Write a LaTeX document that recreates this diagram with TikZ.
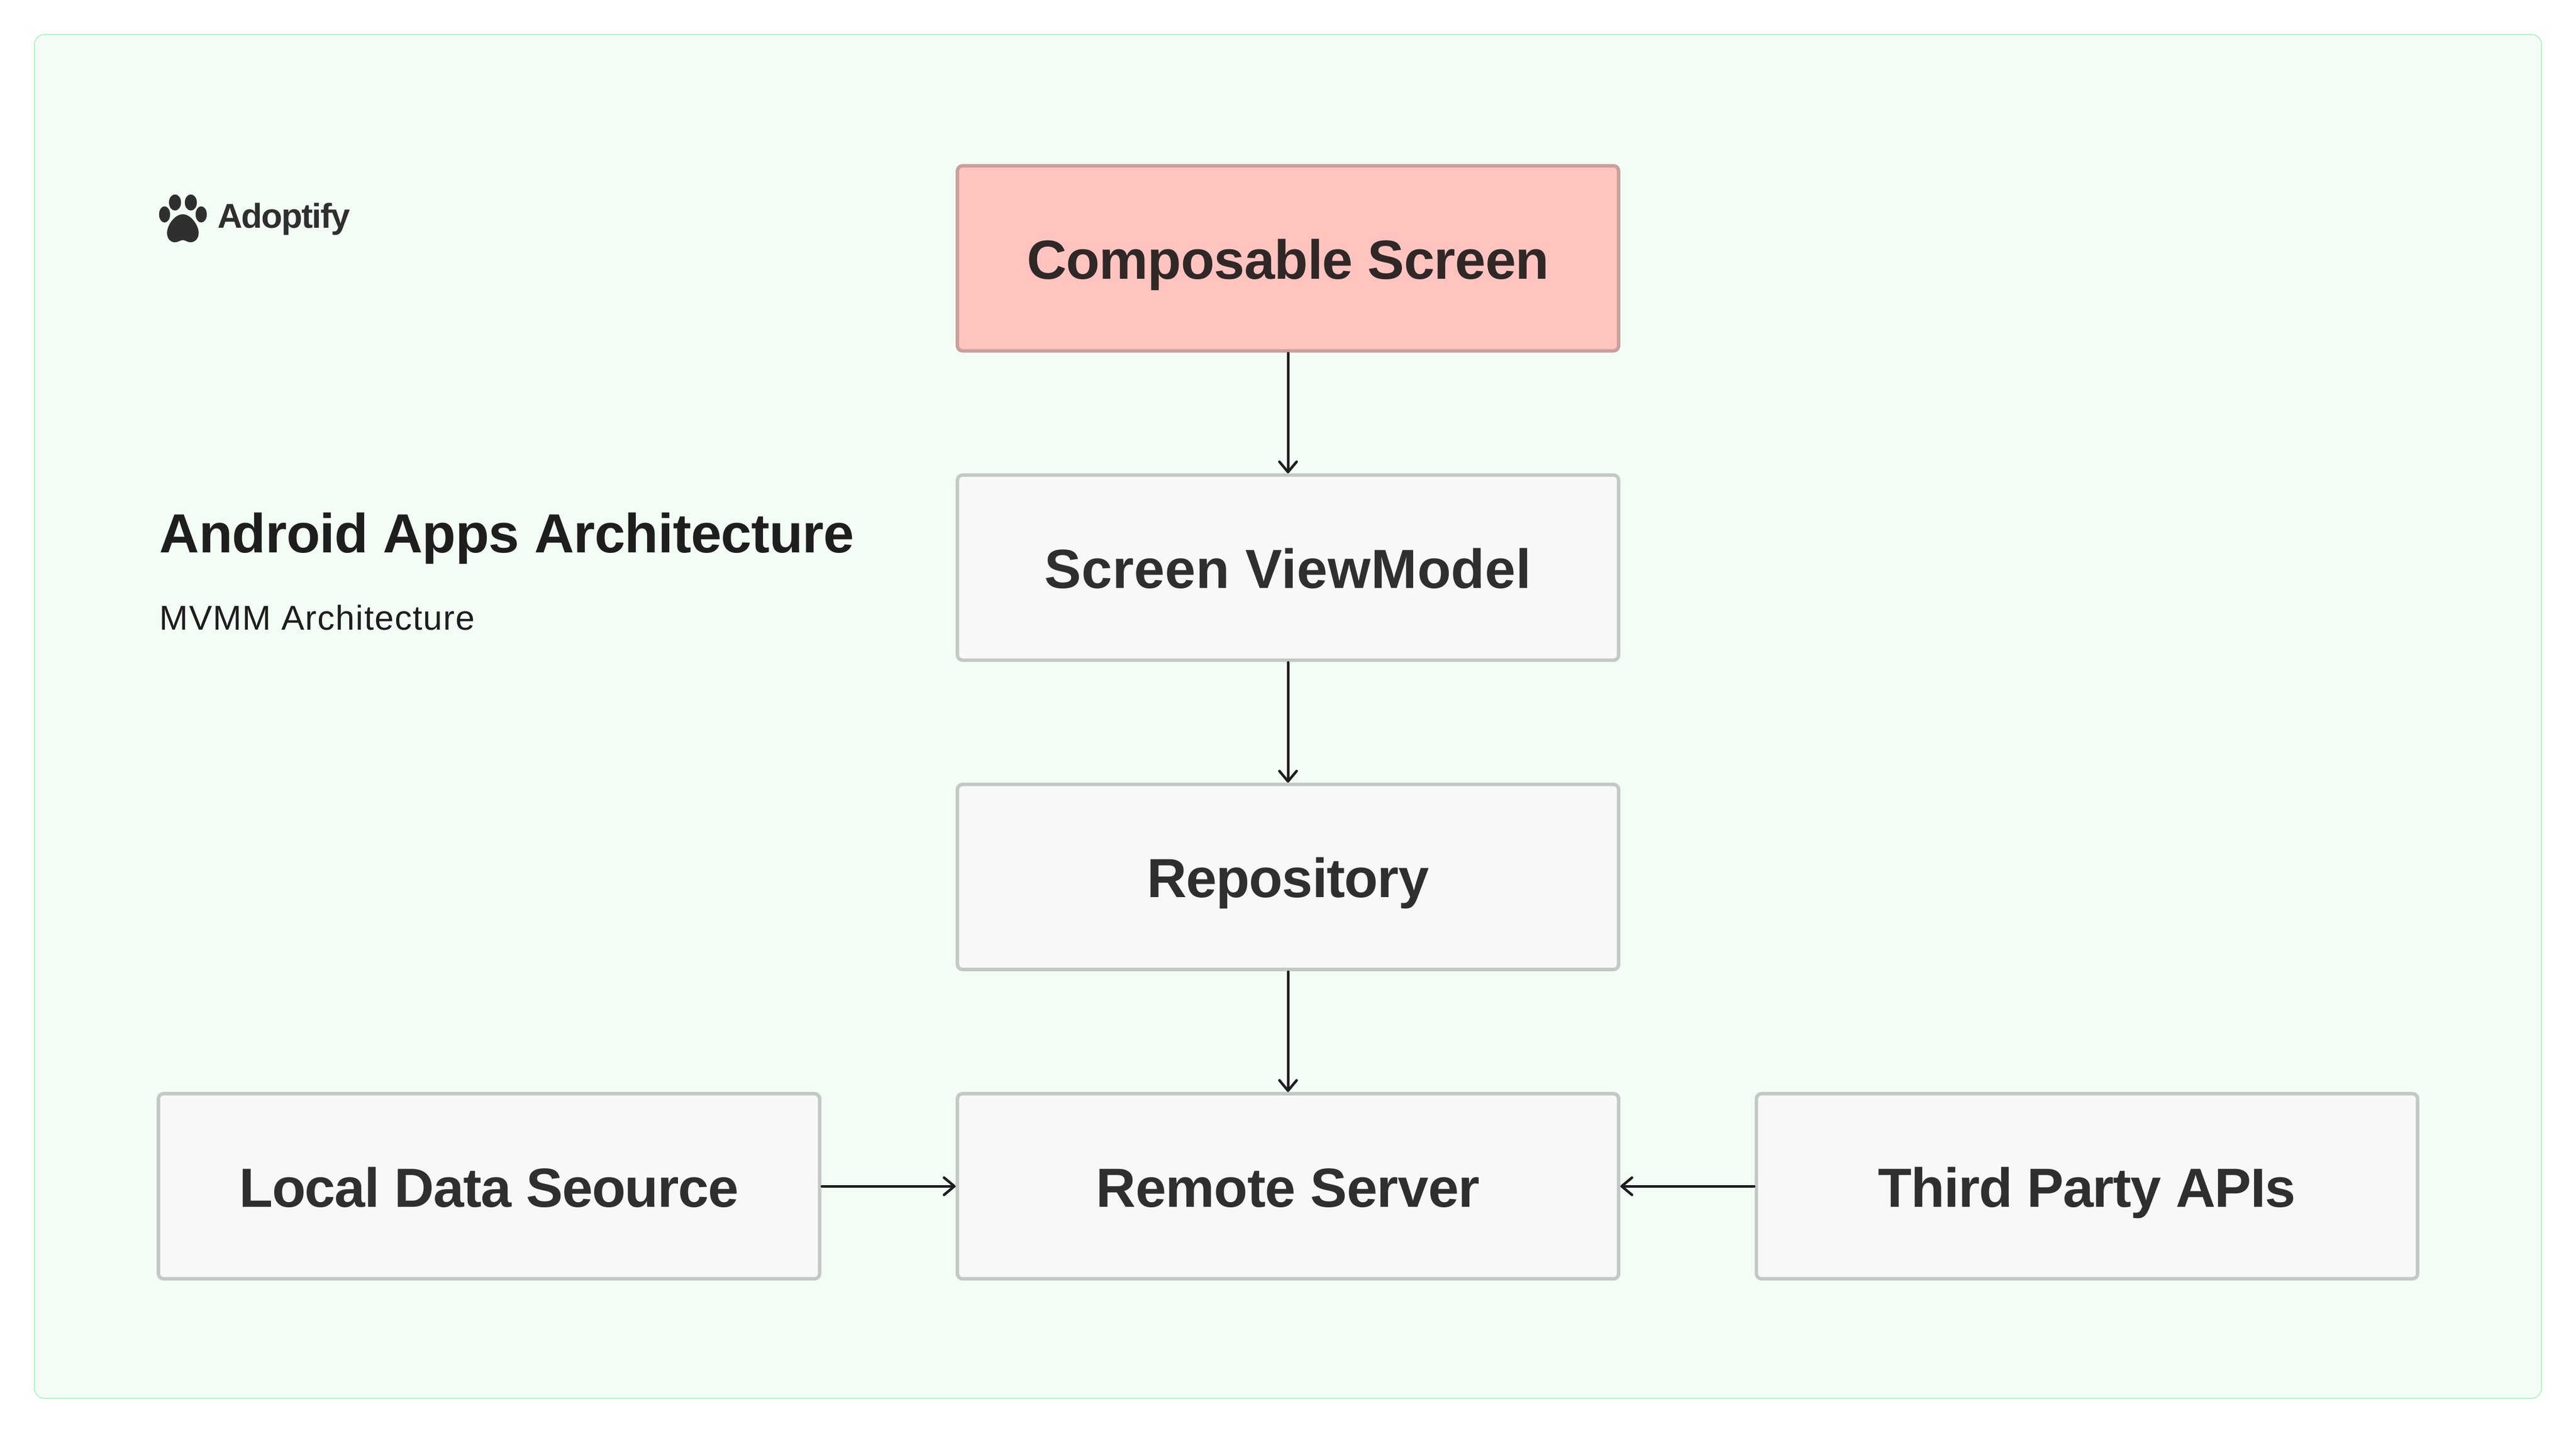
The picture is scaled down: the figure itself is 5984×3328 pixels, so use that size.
\documentclass[tikz,border=0pt]{standalone}
\usepackage{fontspec}
\setmainfont{Liberation Sans}
\usetikzlibrary{positioning, arrows.meta}
\definecolor{panelfill}{HTML}{F3FDF6}
\definecolor{paneldraw}{HTML}{ACF5C5}
\definecolor{boxfill}{HTML}{F8F8F8}
\definecolor{boxdraw}{HTML}{C3C9C5}
\definecolor{redfill}{HTML}{FFC4C0}
\definecolor{reddraw}{HTML}{CB9F9B}
\definecolor{boxtext}{HTML}{2F2F2F}
\definecolor{redtext}{HTML}{302826}
\definecolor{inktext}{HTML}{1E1E1E}
\newcommand{\tracked}[1]{\addfontfeature{LetterSpace=#1}}
\tikzset{
    layer/.style={draw=boxdraw, fill=boxfill, line width=2pt, rounded corners=3pt, text=boxtext,
        minimum width=384pt, minimum height=107.5pt, inner sep=0pt, text height=24pt, text depth=0pt,
        font=\fontsize{32}{38}\selectfont\bfseries},
    flow/.style={draw=inktext, line width=1.5pt, line cap=round, shorten <=0.3pt,
        -{Straight Barb[length=6pt, width=10pt, round]}},
    caption/.style={anchor=base west, inner sep=0pt, text=inktext}
}

\begin{document}
\begin{tikzpicture}[x=0.25pt, y=-0.25pt, node distance=70.1pt and 78pt]
            \useasboundingbox (0,0) rectangle (5984,3328);
            \node [draw=paneldraw, fill=panelfill, line width=0.6pt, rounded corners=6pt, minimum width=1456pt, minimum height=792pt] (panel) at (2992,1664) {};
            \node [layer, draw=reddraw, fill=redfill, text=redtext] (screen) at (2992,600) {\tracked{-0.9}Composable Screen};
            \node [layer, below = of screen] (viewmodel) {\tracked{0.55}Screen ViewModel};
            \node [layer, below = of viewmodel] (repo) {\tracked{-1.2}Repository};
            \node [layer, below = of repo] (remote) {\tracked{-0.9}Remote Server};
            \node [layer, left = of remote] (local) {\tracked{-1.4}Local Data Seource};
            \node [layer, right = of remote] (apis) {\tracked{-1.6}Third Party APIs};
            \draw [flow] (screen) -- (viewmodel);
            \draw [flow] (viewmodel) -- (repo);
            \draw [flow] (repo) -- (remote);
            \draw [flow] (local) -- (remote);
            \draw [flow] (apis) -- (remote);
            \node [caption, font=\fontsize{32}{38}\selectfont\bfseries] (title) at (370,1284) {\tracked{-0.8}Android Apps Architecture};
            \node [caption, font=\fontsize{20}{24}\selectfont] (subtitle) at (370,1463) {\tracked{2.5}MVMM Architecture};
            \node [caption, text=boxtext, font=\fontsize{20}{24}\selectfont\bfseries] (brand) at (505,529) {\tracked{-3}Adoptify};
            \fill [boxtext] (382.3,498) ellipse [x radius=12.8, y radius=18.8];
            \fill [boxtext] (406.5,470.3) ellipse [x radius=14, y radius=18.7];
            \fill [boxtext] (443.3,470.3) ellipse [x radius=14, y radius=18.7];
            \fill [boxtext] (467.4,498) ellipse [x radius=13, y radius=18.8];
            \fill [boxtext] (424.8,497.7) .. controls (444,497.7) and (461.5,524) .. (461.5,541)
                .. controls (461.5,554) and (453,562.7) .. (442.4,562.7)
                .. controls (435,562.7) and (431,557.7) .. (424.8,557.7)
                .. controls (418.6,557.7) and (414,562.7) .. (406.4,562.7)
                .. controls (396,562.7) and (388,554) .. (388,541)
                .. controls (388,524) and (405,497.7) .. (424.8,497.7) -- cycle;
\end{tikzpicture}
\end{document}
